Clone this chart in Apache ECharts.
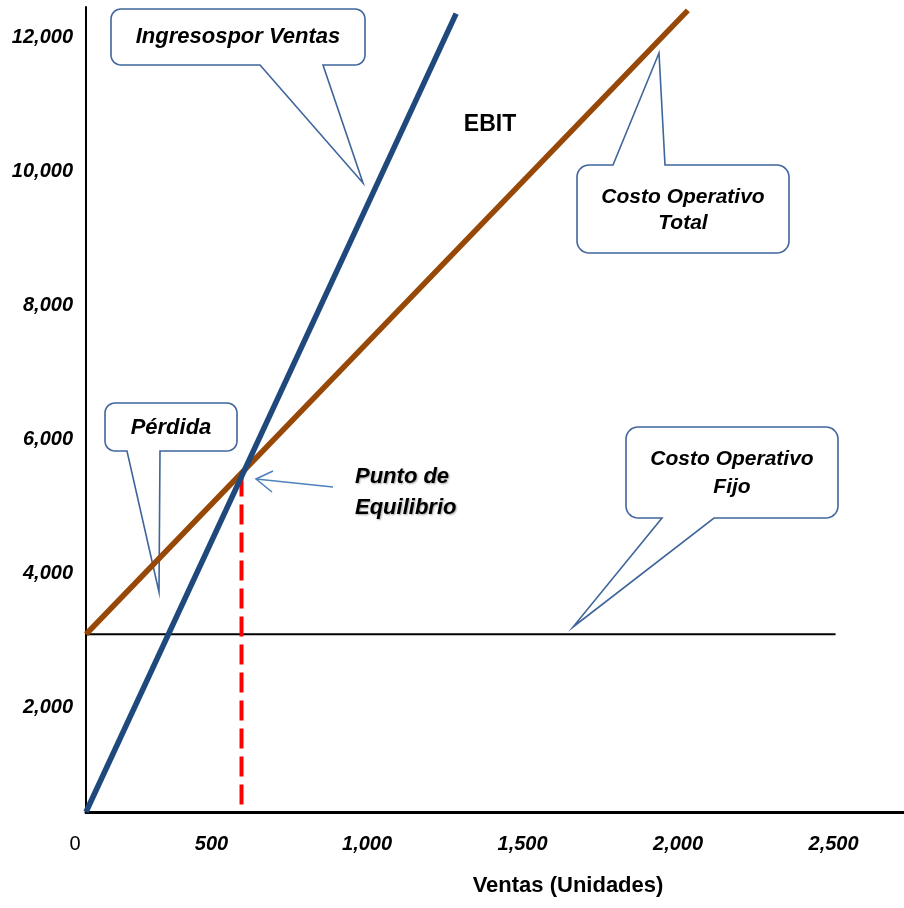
<!DOCTYPE html>
<html>
<head>
<meta charset="utf-8">
<script src="https://cdn.jsdelivr.net/npm/echarts@6/dist/echarts.min.js"></script>
<style>
  html, body { margin: 0; padding: 0; background: #ffffff; }
  #chart { width: 904px; height: 908px; }
</style>
</head>
<body>
<div id="chart"></div>
<script>
// ---- Data (units on x, money on y) ----
const ingresosPorVentas = [[0, 0], [1190, 11900]];
const costoOperativoTotal = [[0, 2650], [1935, 11950]];
const costoOperativoFijo = [[0, 2650], [2410, 2650]];
const puntoEquilibrio = [[500, 5000], [500, 0]];
const xTickLabels = [0, 500, 1000, 1500, 2000, 2500];
const yTickLabels = [2000, 4000, 6000, 8000, 10000, 12000];
const xAxisTitle = 'Ventas (Unidades)';

const FONT = '"Liberation Sans", Arial, sans-serif';
const fmt = v => v.toLocaleString('en-US');

// rounded box + tail polygon (annotation shape)
function callout(x1, y1, x2, y2, r, side, b1, b2, tx, ty) {
  const pts = [];
  function arc(cx, cy, a0, a1) {
    const n = 8;
    for (let i = 0; i <= n; i++) {
      const a = a0 + (a1 - a0) * i / n;
      pts.push([cx + r * Math.cos(a), cy + r * Math.sin(a)]);
    }
  }
  arc(x1 + r, y1 + r, Math.PI, 1.5 * Math.PI);
  if (side === 'top') { pts.push([b1, y1], [tx, ty], [b2, y1]); }
  arc(x2 - r, y1 + r, 1.5 * Math.PI, 2 * Math.PI);
  arc(x2 - r, y2 - r, 0, 0.5 * Math.PI);
  if (side === 'bottom') { pts.push([b2, y2], [tx, ty], [b1, y2]); }
  arc(x1 + r, y2 - r, 0.5 * Math.PI, Math.PI);
  return {
    type: 'polygon', z: 1,
    shape: { points: pts },
    style: { fill: '#ffffff', stroke: '#3F659A', lineWidth: 1.6 }
  };
}
function label(text, x, y, size, italic, lineHeight) {
  return {
    type: 'text', z: 1, z2: 10,
    style: {
      text: text, x: x, y: y,
      align: 'center', verticalAlign: 'middle',
      fill: '#000000',
      fontFamily: FONT,
      fontSize: size, fontWeight: 'bold',
      fontStyle: italic ? 'italic' : 'normal',
      lineHeight: lineHeight || size
    }
  };
}

const chart = echarts.init(document.getElementById('chart'), null, { renderer: 'canvas' });

const option = {
  animation: false,
  backgroundColor: '#ffffff',
  grid: { left: 86, right: 0, top: 7, bottom: 96, containLabel: false, outerBoundsMode: 'none' },
  xAxis: {
    type: 'value', min: 0, max: 2630, interval: 500,
    axisLine: { show: true, lineStyle: { color: '#000', width: 3 } },
    axisTick: { show: false },
    splitLine: { show: false },
    axisLabel: {
      margin: 22,
      padding: [0, 60, 0, 0],
      color: '#000', fontFamily: FONT, fontSize: 20,
      fontWeight: 'bold', fontStyle: 'italic',
      formatter: v => {
        if (v === 0) return '{z|0}';
        return xTickLabels.indexOf(v) >= 0 ? fmt(v) : '';
      },
      rich: {
        z: { fontFamily: FONT, fontSize: 20, fontWeight: 'normal', fontStyle: 'normal',
             color: '#000', padding: [0, 0, 0, 38] }
      }
    },
    name: xAxisTitle,
    nameLocation: 'middle',
    nameGap: 63,
    nameTextStyle: {
      fontFamily: FONT, fontSize: 22, fontWeight: 'bold', color: '#000',
      padding: [0, 0, 0, 146]
    }
  },
  yAxis: {
    type: 'value', min: 0, max: 12000, interval: 2000,
    axisLine: { show: true, lineStyle: { color: '#000', width: 2 } },
    axisTick: { show: false },
    splitLine: { show: false },
    axisLabel: {
      margin: 13,
      lineHeight: 60,
      verticalAlign: 'middle',
      color: '#000', fontFamily: FONT, fontSize: 20,
      fontWeight: 'bold', fontStyle: 'italic',
      formatter: v => (yTickLabels.indexOf(v) >= 0 ? '\n' + fmt(v) : '')
    }
  },
  series: [
    {
      name: 'Costo Operativo Fijo', type: 'line', data: costoOperativoFijo,
      symbol: 'none', z: 3,
      lineStyle: { color: '#000000', width: 2 }
    },
    {
      name: 'Punto de Equilibrio', type: 'line', data: puntoEquilibrio,
      symbol: 'none', z: 3,
      lineStyle: { color: '#FF0000', width: 4, type: [20, 8] }
    },
    {
      name: 'Costo Operativo Total', type: 'line', data: costoOperativoTotal,
      symbol: 'none', z: 4,
      lineStyle: { color: '#974806', width: 5.5 }
    },
    {
      name: 'Ingresos por Ventas', type: 'line', data: ingresosPorVentas,
      symbol: 'none', z: 5,
      lineStyle: { color: '#1F497D', width: 5.5 }
    }
  ],
  graphic: [
    callout(111, 9, 365, 65, 10, 'bottom', 260, 323, 363, 183),
    label('Ingresospor Ventas', 238, 37, 22, true),
    callout(577, 165, 789, 253, 12, 'top', 613, 665, 659, 53),
    label('Costo Operativo\nTotal', 683, 210, 21, true, 26),
    callout(105, 403, 237, 451, 10, 'bottom', 127, 160, 159, 592),
    label('Pérdida', 171, 428, 22, true),
    callout(626, 427, 838, 518, 12, 'bottom', 662, 714, 573, 627),
    label('Costo Operativo\nFijo', 732, 473, 21, true, 28),
    label('EBIT', 490, 125, 23, false),
    {
      type: 'polyline', z: 6,
      shape: { points: [[333, 487], [256, 479]] },
      style: { stroke: '#4F81BD', lineWidth: 1.6, fill: null }
    },
    {
      type: 'polyline', z: 6,
      shape: { points: [[273, 471], [256, 479], [272, 492]] },
      style: { stroke: '#4F81BD', lineWidth: 1.6, fill: null }
    },
    {
      type: 'text', z: 6,
      style: {
        text: 'Punto de\nEquilibrio', x: 355, y: 492,
        align: 'left', verticalAlign: 'middle',
        fill: '#000000', fontFamily: FONT, fontSize: 22,
        fontWeight: 'bold', fontStyle: 'italic', lineHeight: 31,
        textShadowColor: 'rgba(0,0,0,0.35)', textShadowBlur: 2,
        textShadowOffsetX: 1, textShadowOffsetY: 1
      }
    }
  ]
};
chart.setOption(option);
</script>
</body>
</html>
